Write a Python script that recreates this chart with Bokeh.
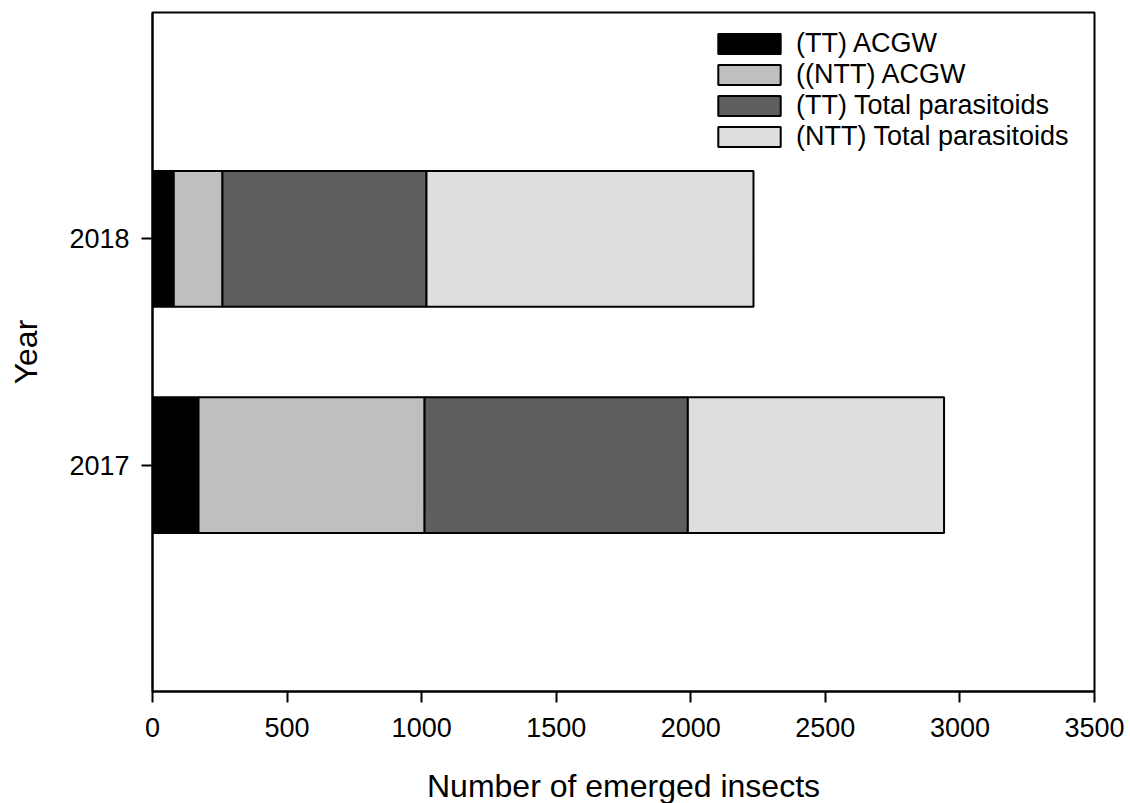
from bokeh.plotting import figure
from bokeh.models import ColumnDataSource, FixedTicker, BasicTickFormatter
from bokeh.embed import file_html
from bokeh.resources import INLINE

# ---- data ----
years = [2017, 2018]
tt_acgw = [171, 79]
ntt_acgw = [840, 181]
tt_parasitoids = [978, 758]
ntt_parasitoids = [952, 1215]
series_names = ["(TT) ACGW", "((NTT) ACGW", "(TT) Total parasitoids", "(NTT) Total parasitoids"]
series_keys = ["tt_acgw", "ntt_acgw", "tt_par", "ntt_par"]
colors = ["#000000", "#BFBFBF", "#5F5F5F", "#DEDEDE"]
x_ticks = [0, 500, 1000, 1500, 2000, 2500, 3000, 3500]

source = ColumnDataSource(dict(year=years, tt_acgw=tt_acgw, ntt_acgw=ntt_acgw,
                               tt_par=tt_parasitoids, ntt_par=ntt_parasitoids))

FONT = "Liberation Sans"

p = figure(frame_width=942, frame_height=679,
           x_range=(0, 3500), y_range=(2016, 2019),
           output_backend="svg", toolbar_location=None,
           min_border_left=152, min_border_right=36,
           min_border_top=12, min_border_bottom=112)

p.hbar_stack(series_keys, y="year", height=0.6, source=source,
             fill_color=colors, line_color="black", line_width=2,
             legend_label=series_names)

p.xgrid.visible = False
p.ygrid.visible = False
p.outline_line_color = "black"
p.outline_line_width = 2
p.background_fill_color = "white"
p.border_fill_color = "white"

p.xaxis.ticker = FixedTicker(ticks=x_ticks)
p.yaxis.ticker = FixedTicker(ticks=years)
p.yaxis.formatter = BasicTickFormatter(use_scientific=False)

for ax in (p.xaxis, p.yaxis):
    ax.axis_line_width = 2
    ax.axis_line_color = "black"
    ax.major_tick_line_width = 2
    ax.major_tick_line_color = "black"
    ax.major_tick_in = 0
    ax.major_tick_out = 11
    ax.minor_tick_in = 0
    ax.minor_tick_out = 0
    ax.major_label_text_font = FONT
    ax.major_label_text_font_size = "27px"
    ax.major_label_text_color = "black"
    ax.axis_label_text_font = FONT
    ax.axis_label_text_font_size = "32px"
    ax.axis_label_text_font_style = "normal"
    ax.axis_label_text_color = "black"

p.xaxis.major_label_standoff = 15
p.yaxis.major_label_standoff = 12
p.xaxis.axis_label = "Number of emerged insects"
p.yaxis.axis_label = "Year"
p.xaxis.axis_label_standoff = 28
p.yaxis.axis_label_standoff = 22

lg = p.legend[0]
lg.location = (558, 539)
lg.padding = 0
lg.margin = 0
lg.spacing = -3
lg.border_line_color = None
lg.background_fill_alpha = 0
lg.label_text_font = FONT
lg.label_text_font_size = "27px"
lg.label_text_line_height = 1.0
lg.label_text_color = "black"
lg.glyph_width = 78
lg.glyph_height = 25
lg.label_height = 20
lg.label_standoff = 8

open("out.html", "w").write(file_html(p, INLINE))
